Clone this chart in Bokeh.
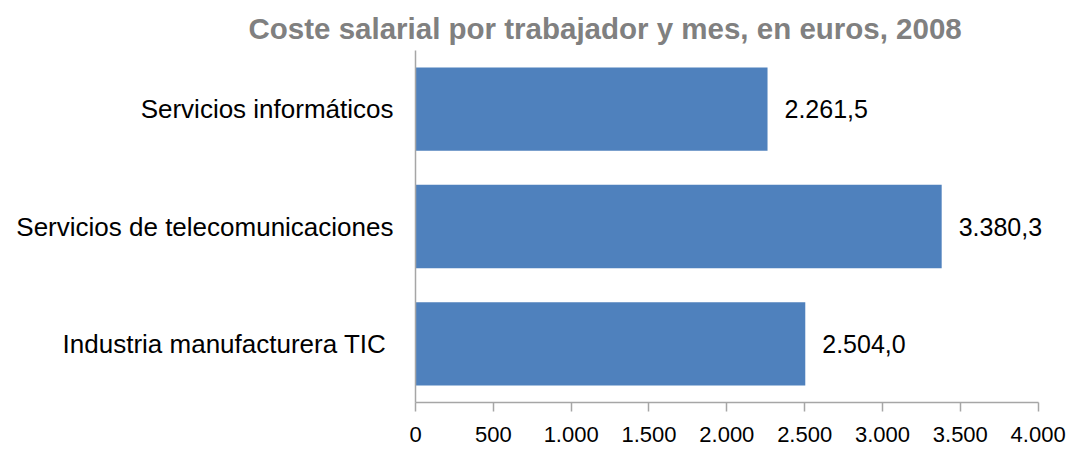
from bokeh.plotting import figure
from bokeh.models import FactorRange, Range1d, FixedTicker, ColumnDataSource, LabelSet
from bokeh.core.properties import value
from bokeh.embed import file_html
from bokeh.resources import INLINE

title_text = "Coste salarial por trabajador y mes, en euros, 2008"
categories = ["Servicios informáticos", "Servicios de telecomunicaciones", "Industria manufacturera  TIC"]
values = [2261.5, 3380.3, 2504.0]
tick_values = [0, 500, 1000, 1500, 2000, 2500, 3000, 3500, 4000]
tick_labels = ["0", "500", "1.000", "1.500", "2.000", "2.500", "3.000", "3.500", "4.000"]
axis_max = 4000
view_max = 4150


def fmt_es(v):
    s = f"{v:,.1f}"
    return s.replace(",", "X").replace(".", ",").replace("X", ".")


labels = [fmt_es(v) for v in values]

src = ColumnDataSource(dict(cat=categories, val=values, lab=labels))

FONT = "Liberation Sans"

p = figure(
    width=1068, height=448,
    y_range=FactorRange(factors=list(reversed(categories)), range_padding=0),
    x_range=Range1d(0, view_max),
    output_backend="svg", toolbar_location=None,
    min_border_left=415, min_border_right=7,
    min_border_top=50, min_border_bottom=46,
)

p.hbar(y="cat", right="val", left=0, height=0.71, source=src,
       fill_color="#4F81BD", line_color=None)

p.add_layout(LabelSet(x="val", y="cat", text="lab", source=src, x_offset=17,
                      text_baseline="middle", text_align="left",
                      text_font_size=value("25px"), text_color=value("#000000"),
                      text_font=value(FONT)))

p.title.text = title_text
p.title.text_font = FONT
p.title.text_font_size = "29.5px"
p.title.text_font_style = "bold"
p.title.text_color = "#808080"
p.title.align = "left"
p.title.offset = -167
p.title.standoff = 12

p.xgrid.visible = False
p.ygrid.visible = False
p.outline_line_color = None

xa = p.xaxis[0]
xa.ticker = FixedTicker(ticks=tick_values)
xa.bounds = (0, axis_max)
xa.major_label_overrides = {t: l for t, l in zip(tick_values, tick_labels)}
xa.axis_line_color = "#A6A6A6"
xa.axis_line_width = 1.5
xa.major_tick_line_color = "#A6A6A6"
xa.major_tick_line_width = 1.5
xa.major_tick_out = 9
xa.major_tick_in = 0
xa.minor_tick_line_color = None
xa.major_label_text_font = FONT
xa.major_label_text_font_size = "22px"
xa.major_label_text_color = "#000000"
xa.major_label_standoff = 15

ya = p.yaxis[0]
ya.axis_line_color = "#A6A6A6"
ya.axis_line_width = 1.5
ya.major_tick_line_color = None
ya.minor_tick_line_color = None
ya.major_label_text_font = FONT
ya.major_label_text_font_size = "26px"
ya.major_label_text_color = "#000000"
ya.major_label_standoff = 16

open("out.html", "w").write(file_html(p, INLINE))
